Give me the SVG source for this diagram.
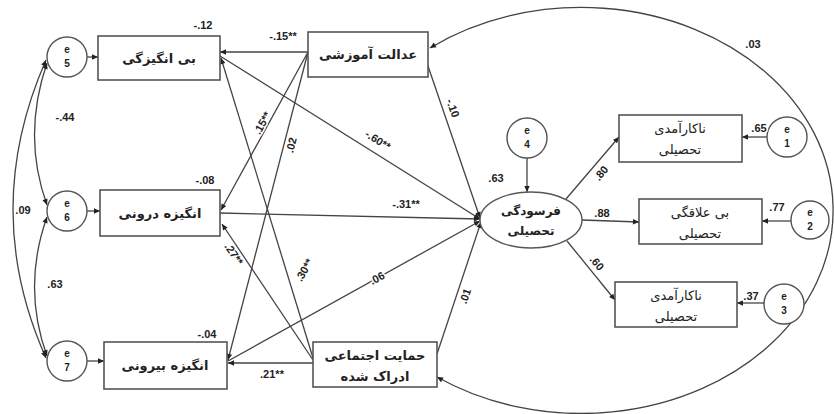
<svg xmlns="http://www.w3.org/2000/svg" width="834" height="414" viewBox="0 0 834 414">
<style>
.bx{fill:#fff;stroke:#555;stroke-width:1.6}
.ci{fill:#fff;stroke:#555;stroke-width:1.4}
.ln{fill:none;stroke:#444;stroke-width:1.3}
.lb{font-family:"DejaVu Sans","Noto Sans",sans-serif;font-size:13px;font-weight:bold;fill:#222;text-anchor:middle}
.lr{font-family:"DejaVu Sans","Noto Sans",sans-serif;font-size:13px;fill:#222;text-anchor:middle}
.n{font-family:"Liberation Sans",Arial,sans-serif;font-size:11px;font-weight:bold;fill:#222;text-anchor:middle;paint-order:stroke;stroke:#fff;stroke-width:3px;stroke-linejoin:round}
.e{font-family:"Liberation Sans",Arial,sans-serif;font-size:10px;font-weight:bold;fill:#222;text-anchor:middle}
</style>
<defs>
<marker id="ah" viewBox="0 0 10 10" refX="10" refY="5" markerWidth="7" markerHeight="6" markerUnits="userSpaceOnUse" orient="auto-start-reverse"><path d="M0,0.5 L10,5 L0,9.5 z" fill="#222"/></marker>
</defs>
<rect width="834" height="414" fill="#fff"/>

<g id="connectors">
<!-- covariances left -->
<path class="ln" d="M47,63 Q22,136 47,205" marker-start="url(#ah)" marker-end="url(#ah)"/>
<path class="ln" d="M46,60 Q-20,210 46,358" marker-start="url(#ah)" marker-end="url(#ah)"/>
<path class="ln" d="M47,217 Q22,287 47,356" marker-start="url(#ah)" marker-end="url(#ah)"/>
<!-- big covariance arc -->
<path class="ln" d="M437,377 A252,203 0 1 0 430,48" marker-start="url(#ah)" marker-end="url(#ah)"/>
<!-- error arrows -->
<line class="ln" x1="87" y1="57" x2="98" y2="57" marker-end="url(#ah)"/>
<line class="ln" x1="87" y1="211" x2="100" y2="211" marker-end="url(#ah)"/>
<line class="ln" x1="87" y1="361" x2="104" y2="361" marker-end="url(#ah)"/>
<line class="ln" x1="527" y1="158" x2="527" y2="192" marker-end="url(#ah)"/>
<line class="ln" x1="767" y1="137" x2="742" y2="137" marker-end="url(#ah)"/>
<line class="ln" x1="791" y1="221" x2="762" y2="221" marker-end="url(#ah)"/>
<line class="ln" x1="764" y1="303" x2="737" y2="303" marker-end="url(#ah)"/>
<!-- from justice / support to motivation boxes -->
<line class="ln" x1="308" y1="52" x2="220" y2="52" marker-end="url(#ah)"/>
<line class="ln" x1="308" y1="52" x2="221" y2="210" marker-end="url(#ah)"/>
<line class="ln" x1="308" y1="52" x2="228" y2="360" marker-end="url(#ah)"/>
<line class="ln" x1="313" y1="358" x2="221" y2="58" marker-end="url(#ah)"/>
<line class="ln" x1="313" y1="360" x2="222" y2="224" marker-end="url(#ah)"/>
<line class="ln" x1="313" y1="363" x2="228" y2="363" marker-end="url(#ah)"/>
<!-- to burnout -->
<line class="ln" x1="220" y1="56" x2="480" y2="219" marker-end="url(#ah)"/>
<line class="ln" x1="220" y1="213" x2="480" y2="219" marker-end="url(#ah)"/>
<line class="ln" x1="228" y1="361" x2="480" y2="221" marker-end="url(#ah)"/>
<line class="ln" x1="428" y1="66" x2="480" y2="218" marker-end="url(#ah)"/>
<line class="ln" x1="437" y1="354" x2="481" y2="222" marker-end="url(#ah)"/>
<!-- burnout to indicators -->
<line class="ln" x1="566" y1="199" x2="619" y2="137" marker-end="url(#ah)"/>
<line class="ln" x1="582" y1="220" x2="639" y2="222" marker-end="url(#ah)"/>
<line class="ln" x1="567" y1="241" x2="615" y2="300" marker-end="url(#ah)"/>
</g>

<g id="e5"><circle class="ci" cx="67" cy="57" r="20"/><text class="e" x="67" y="53">e</text><text class="e" x="67" y="67">5</text></g>
<g id="e6"><circle class="ci" cx="67" cy="211" r="20"/><text class="e" x="67" y="207">e</text><text class="e" x="67" y="221">6</text></g>
<g id="e7"><circle class="ci" cx="67" cy="361" r="20"/><text class="e" x="67" y="357">e</text><text class="e" x="67" y="371">7</text></g>
<g id="e4"><circle class="ci" cx="527" cy="138" r="20"/><text class="e" x="527" y="134">e</text><text class="e" x="527" y="148">4</text></g>
<g id="e1"><circle class="ci" cx="787" cy="137" r="20"/><text class="e" x="787" y="133">e</text><text class="e" x="787" y="147">1</text></g>
<g id="e2"><circle class="ci" cx="810" cy="220" r="19"/><text class="e" x="810" y="216">e</text><text class="e" x="810" y="230">2</text></g>
<g id="e3"><circle class="ci" cx="784" cy="304" r="20"/><text class="e" x="784" y="300">e</text><text class="e" x="784" y="314">3</text></g>

<g id="amotivation"><rect class="bx" x="98" y="36" width="122" height="44"/><text class="lb" x="159" y="63">بی انگیزگی</text></g>
<g id="intrinsic"><rect class="bx" x="100" y="190" width="120" height="46"/><text class="lb" x="160" y="218">انگیزه درونی</text></g>
<g id="extrinsic"><rect class="bx" x="104" y="342" width="123" height="47"/><text class="lb" x="165" y="370">انگیزه بیرونی</text></g>
<g id="justice"><rect class="bx" x="308" y="32" width="120" height="45"/><text class="lb" x="368" y="59">عدالت آموزشی</text></g>
<g id="support"><rect class="bx" x="313" y="342" width="124" height="45"/><text class="lb" x="375" y="360">حمایت اجتماعی</text><text class="lb" x="375" y="381">ادراک شده</text></g>
<g id="burnout"><ellipse class="ci" cx="531" cy="220" rx="51" ry="28"/><text class="lb" x="531" y="215" style="font-size:12px">فرسودگی</text><text class="lb" x="531" y="235" style="font-size:12px">تحصیلی</text></g>
<g id="inefficacy1"><rect class="bx" x="619" y="115" width="123" height="47"/><text class="lr" x="680" y="133">ناکارآمدی</text><text class="lr" x="680" y="154">تحصیلی</text></g>
<g id="disinterest"><rect class="bx" x="639" y="199" width="123" height="45"/><text class="lr" x="700" y="217">بی علاقگی</text><text class="lr" x="700" y="238">تحصیلی</text></g>
<g id="inefficacy2"><rect class="bx" x="615" y="282" width="122" height="45"/><text class="lr" x="676" y="300">ناکارآمدی</text><text class="lr" x="676" y="321">تحصیلی</text></g>

<g id="labels">
<text class="n" x="203" y="29">-.12</text>
<text class="n" x="283" y="40">-.15**</text>
<text class="n" x="65" y="121">-.44</text>
<text class="n" x="205" y="184">-.08</text>
<text class="n" x="23" y="214">.09</text>
<text class="n" x="55" y="288">.63</text>
<text class="n" x="207" y="338">-.04</text>
<text class="n" x="272" y="378">.21**</text>
<text class="n" x="406" y="208">-.31**</text>
<text class="n" x="496" y="182">.63</text>
<text class="n" x="602" y="217">.88</text>
<text class="n" x="759" y="132">.65</text>
<text class="n" x="777" y="211">.77</text>
<text class="n" x="751" y="300">.37</text>
<text class="n" x="753" y="48">.03</text>
<text class="n" transform="translate(262,123) rotate(-61)" y="4">.15**</text>
<text class="n" transform="translate(291,145) rotate(-75)" y="4">.02</text>
<text class="n" transform="translate(234,254) rotate(56)" y="4">.27**</text>
<text class="n" transform="translate(304,270) rotate(-60)" y="4">.30**</text>
<text class="n" transform="translate(378,140) rotate(32)" y="4">-.60**</text>
<text class="n" transform="translate(453,108) rotate(70)" y="4">-.10</text>
<text class="n" transform="translate(377,278) rotate(-28)" y="4">.06</text>
<text class="n" transform="translate(465,296) rotate(-70)" y="4">.01</text>
<text class="n" transform="translate(601,173) rotate(-50)" y="4">.80</text>
<text class="n" transform="translate(597,263) rotate(50)" y="4">.60</text>
</g>
</svg>
